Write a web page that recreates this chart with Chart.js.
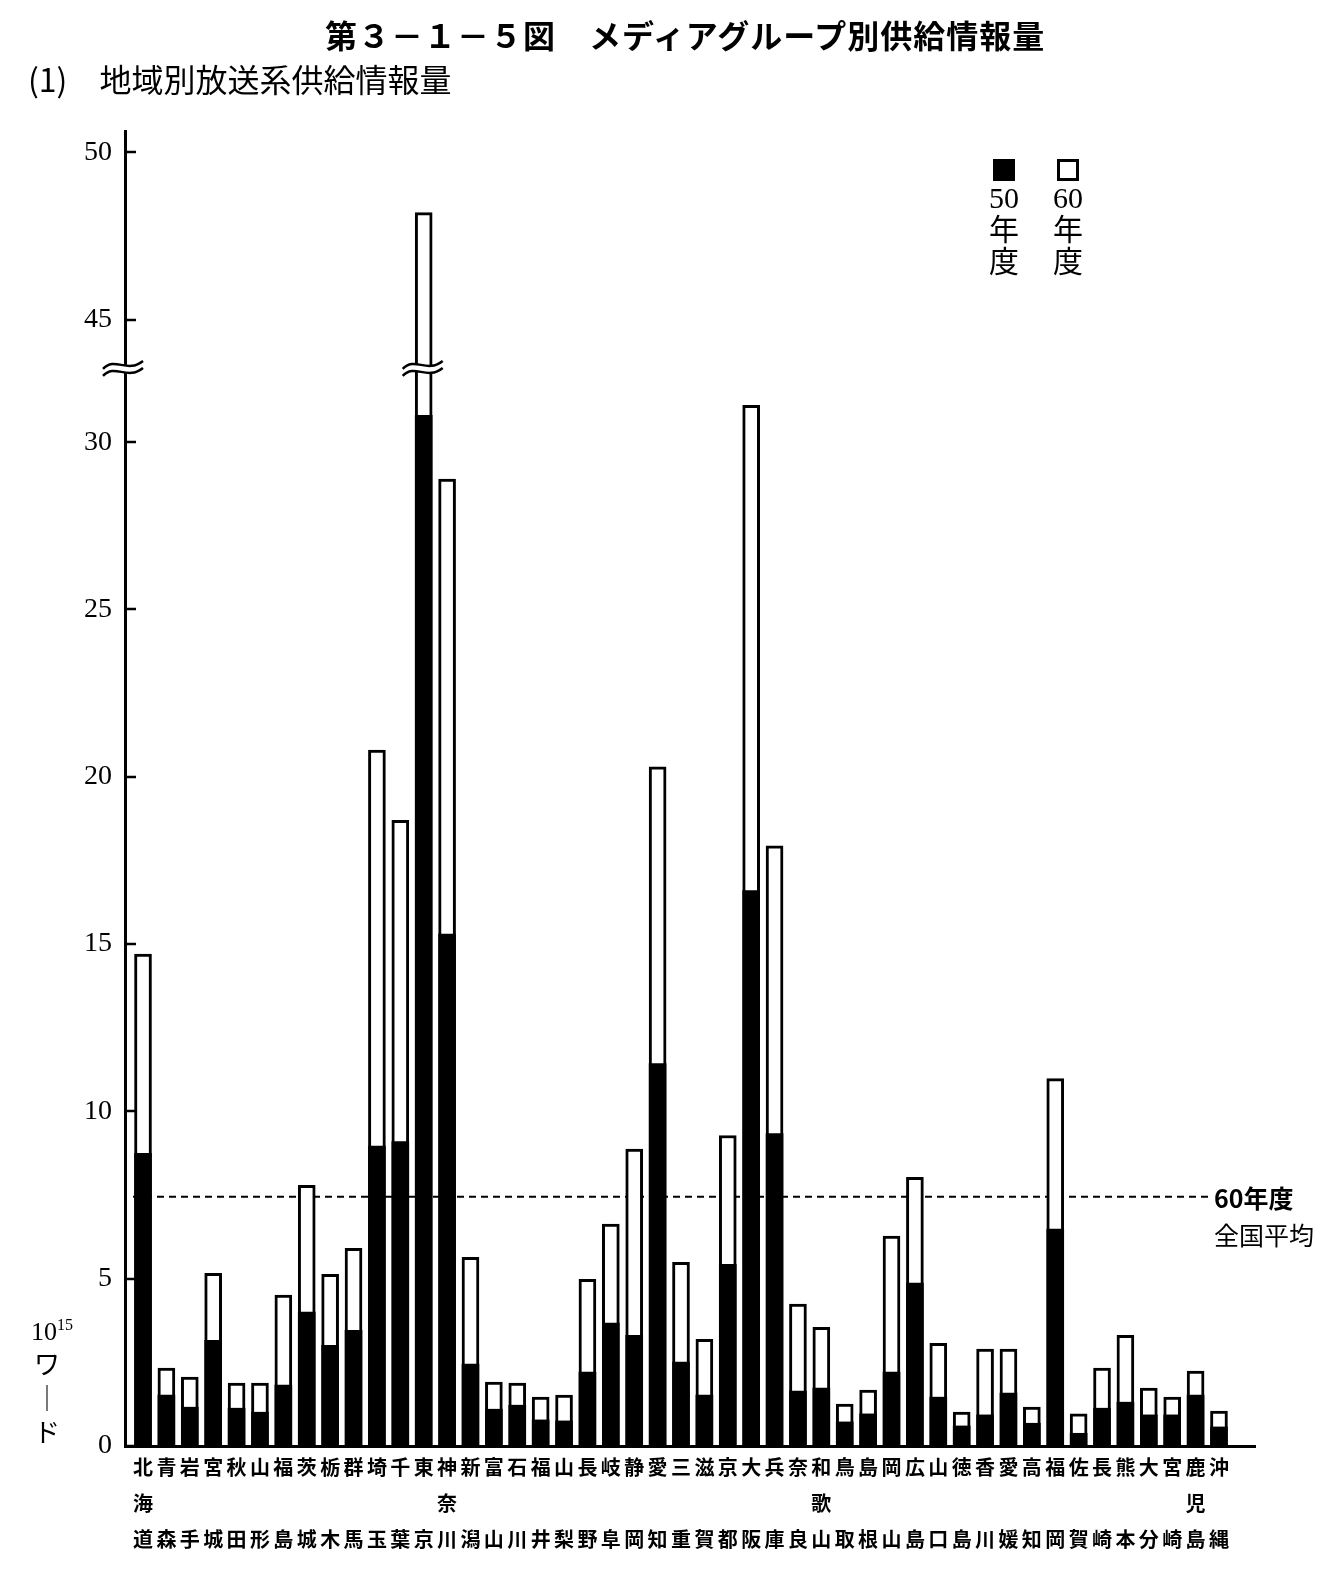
<!DOCTYPE html>
<html lang="ja">
<head>
<meta charset="UTF-8">
<title>第3－1－5図 メディアグループ別供給情報量</title>
<script src="https://cdn.jsdelivr.net/npm/chart.js"></script>
<style>
    * { margin: 0; padding: 0; box-sizing: border-box; }
    body {
        width: 1325px; height: 1569px; position: relative; overflow: hidden;
        background: #fff; color: #000;
        font-family: 'Noto Sans CJK JP', sans-serif;
    }
    #chart { position: absolute; left: 0; top: 0; }
    .title {
        position: absolute; left: 325px; top: 13px;
        font-size: 32px; font-weight: bold; line-height: 42px; white-space: nowrap;
        letter-spacing: 1px;
    }
    .subtitle {
        position: absolute; left: 28px; top: 56px;
        font-size: 32px; line-height: 44px; white-space: nowrap;
    }
    .legend-col {
        position: absolute; top: 159px; width: 44px;
        text-align: center; font-family: 'Liberation Serif', 'Noto Sans CJK JP', serif;
        font-size: 30px; line-height: 32px;
    }
    .legend-col .box { width: 22px; height: 22px; margin: 0 auto 1px auto; }
    .unit {
        position: absolute; left: 31px; top: 1308px;
        font-family: 'Liberation Serif', 'Noto Sans CJK JP', serif;
        font-size: 26px; line-height: 34px;
    }
    .unit sup { font-size: 16px; vertical-align: 10px; }
    .unit div.k { padding-left: 3px; }
</style>
</head>
<body>

<canvas id="chart" width="1325" height="1569"></canvas>

<div class="title">第３－１－５図　メディアグループ別供給情報量</div>
<div class="subtitle">(1)　地域別放送系供給情報量</div>

<div class="legend-col" style="left: 982px;">
    <div class="box" style="background:#000;"></div>
    <div>50</div><div>年</div><div>度</div>
</div>
<div class="legend-col" style="left: 1046px;">
    <div class="box" style="border:3px solid #000;"></div>
    <div>60</div><div>年</div><div>度</div>
</div>

<div class="unit">
    <div>10<sup>15</sup></div>
    <div class="k">ワ</div>
    <div class="k">｜</div>
    <div class="k">ド</div>
</div>

<script>
    const prefectures = [
        '北海道', '青森', '岩手', '宮城', '秋田', '山形', '福島', '茨城', '栃木', '群馬',
        '埼玉', '千葉', '東京', '神奈川', '新潟', '富山', '石川', '福井', '山梨', '長野',
        '岐阜', '静岡', '愛知', '三重', '滋賀', '京都', '大阪', '兵庫', '奈良', '和歌山',
        '鳥取', '島根', '岡山', '広島', '山口', '徳島', '香川', '愛媛', '高知', '福岡',
        '佐賀', '長崎', '熊本', '大分', '宮崎', '鹿児島', '沖縄'
    ];

    // 50年度 (black)
    const info50 = [
        8.75, 1.52, 1.16, 3.16, 1.13, 1.01, 1.82, 4.0, 3.01, 3.46,
        8.96, 9.1, 30.8, 15.3, 2.45, 1.10, 1.22, 0.78, 0.75, 2.21,
        3.67, 3.31, 11.43, 2.51, 1.52, 5.43, 16.6, 9.34, 1.64, 1.73,
        0.72, 0.96, 2.21, 4.87, 1.46, 0.6, 0.93, 1.58, 0.68, 6.48,
        0.38, 1.13, 1.31, 0.93, 0.93, 1.52, 0.57
    ];

    // 60年度 (white)
    const info60 = [
        14.7, 2.33, 2.06, 5.16, 1.88, 1.88, 4.51, 7.79, 5.13, 5.91,
        20.8, 18.7, 48.2, 28.9, 5.64, 1.91, 1.88, 1.46, 1.52, 4.98,
        6.63, 8.87, 20.3, 5.49, 3.19, 9.28, 31.1, 17.94, 4.24, 3.55,
        1.25, 1.67, 6.27, 8.03, 3.07, 1.01, 2.90, 2.90, 1.16, 10.98,
        0.96, 2.33, 3.31, 1.73, 1.46, 2.24, 1.04
    ];

    const yTicks = [0, 5, 10, 15, 20, 25, 30, 45, 50];
    const average60 = 7.45;
    const brokenBarIndex = 12; // 東京

    // axis break: 32..45 squeezed into a short gap
    const BREAK_FROM = 32;
    const BREAK_TO = 45;
    const BREAK_GAP = 1.66;
    const BREAK_MARK = 33.6;

    function fold(v) {
        if (v <= BREAK_FROM) return v;
        if (v >= BREAK_TO) return v - (BREAK_TO - BREAK_FROM) + BREAK_GAP;
        return BREAK_FROM + (v - BREAK_FROM) / (BREAK_TO - BREAK_FROM) * BREAK_GAP;
    }

    class BrokenLinearScale extends Chart.LinearScale {
        getPixelForValue(value) {
            const lo = fold(this.min);
            const hi = fold(this.max);
            return this.getPixelForDecimal((fold(value) - lo) / (hi - lo));
        }
    }
    BrokenLinearScale.id = 'brokenLinear';
    BrokenLinearScale.defaults = Chart.LinearScale.defaults;
    Chart.register(BrokenLinearScale);

    function labelLines(name) {
        const c = name.split('');
        return c.length === 3 ? c : [c[0], '', c[1]];
    }

    function drawWave(ctx, x0, x1, y, reverse) {
        const w = x1 - x0;
        if (!reverse) {
            ctx.bezierCurveTo(x0 + w * 0.3, y - 9, x0 + w * 0.6, y + 9, x1, y - 4);
        } else {
            ctx.bezierCurveTo(x0 + w * 0.6, y + 9, x0 + w * 0.3, y - 9, x0, y + 4);
        }
    }

    function drawBreak(ctx, x0, x1, y) {
        const gap = 3.5;
        ctx.save();
        ctx.fillStyle = '#fff';
        ctx.beginPath();
        ctx.moveTo(x0, y - gap + 4);
        drawWave(ctx, x0, x1, y - gap, false);
        ctx.lineTo(x1, y + gap - 4);
        drawWave(ctx, x0, x1, y + gap, true);
        ctx.closePath();
        ctx.fill();
        ctx.strokeStyle = '#000';
        ctx.lineWidth = 2.5;
        ctx.beginPath();
        ctx.moveTo(x0, y - gap + 4);
        drawWave(ctx, x0, x1, y - gap, false);
        ctx.moveTo(x0, y + gap + 4);
        drawWave(ctx, x0, x1, y + gap, false);
        ctx.stroke();
        ctx.restore();
    }

    const averageLine = {
        id: 'averageLine',
        beforeDatasetsDraw(chart) {
            const ctx = chart.ctx;
            const y = chart.scales.y.getPixelForValue(average60);
            const x0 = chart.chartArea.left + 8;
            const x1 = chart.chartArea.right - 44;
            ctx.save();
            ctx.strokeStyle = '#000';
            ctx.lineWidth = 2;
            ctx.setLineDash([7, 5]);
            ctx.beginPath();
            ctx.moveTo(x0, y);
            ctx.lineTo(x1, y);
            ctx.stroke();
            ctx.restore();

            ctx.save();
            ctx.fillStyle = '#000';
            ctx.textAlign = 'left';
            ctx.textBaseline = 'middle';
            ctx.font = "bold 25px 'Noto Sans CJK JP', sans-serif";
            ctx.fillText('60年度', x1 + 3, y + 2);
            ctx.font = "25px 'Noto Sans CJK JP', sans-serif";
            ctx.fillText('全国平均', x1 + 3, y + 39);
            ctx.restore();
        }
    };

    const axisMarks = {
        id: 'axisMarks',
        afterDraw(chart) {
            const ctx = chart.ctx;
            const ys = chart.scales.y;
            const xs = chart.scales.x;
            const ax = chart.chartArea.left;
            ctx.save();
            ctx.strokeStyle = '#000';
            ctx.lineWidth = 2.5;
            ctx.beginPath();
            ys.ticks.forEach(t => {
                const y = Math.round(ys.getPixelForValue(t.value));
                ctx.moveTo(ax, y);
                ctx.lineTo(ax + 11, y);
            });
            ctx.stroke();
            ctx.restore();

            const yb = ys.getPixelForValue(BREAK_MARK);
            drawBreak(ctx, ax - 22, ax + 18, yb);
            const bx = xs.getPixelForValue(brokenBarIndex);
            drawBreak(ctx, bx - 21, bx + 19, yb);
        }
    };

    new Chart(document.getElementById('chart'), {
        type: 'bar',
        data: {
            datasets: [
                {
                    label: '50年度',
                    data: info50.map((v, i) => ({ x: i, y: v })),
                    backgroundColor: '#000',
                    borderWidth: 0,
                    barThickness: 17
                },
                {
                    label: '60年度',
                    data: info60.map((v, i) => ({ x: i, y: v })),
                    backgroundColor: '#fff',
                    borderColor: '#000',
                    borderWidth: 3,
                    barThickness: 17
                }
            ]
        },
        plugins: [averageLine, axisMarks],
        options: {
            responsive: false,
            animation: false,
            devicePixelRatio: 1,
            layout: { padding: { left: 0, top: 131, right: 70, bottom: 0 } },
            plugins: {
                legend: { display: false },
                tooltip: { enabled: false }
            },
            scales: {
                x: {
                    type: 'linear',
                    offset: false,
                    min: -0.77,
                    max: 47.54,
                    stacked: true,
                    afterBuildTicks: s => { s.ticks = prefectures.map((_, i) => ({ value: i })); },
                    afterFit: s => { s.height = 123; },
                    grid: { display: false, drawTicks: false, offset: false },
                    border: { display: true, color: '#000', width: 3 },
                    ticks: {
                        autoSkip: false,
                        maxRotation: 0,
                        padding: 3,
                        color: '#000',
                        font: { family: "'Noto Sans CJK JP', sans-serif", size: 20, weight: 'bold', lineHeight: 1.8 },
                        callback: (v, i) => labelLines(prefectures[i])
                    }
                },
                y: {
                    type: 'brokenLinear',
                    min: 0,
                    max: 50.64,
                    stacked: false,
                    afterBuildTicks: s => { s.ticks = yTicks.map(v => ({ value: v })); },
                    afterFit: s => { s.width = 125; },
                    grid: { display: false, drawTicks: false },
                    border: { display: true, color: '#000', width: 3 },
                    ticks: {
                        autoSkip: false,
                        padding: 13,
                        color: '#000',
                        font: { family: "'Liberation Serif', serif", size: 28 },
                        callback: v => String(v)
                    }
                }
            }
        }
    });
</script>
</body>
</html>
